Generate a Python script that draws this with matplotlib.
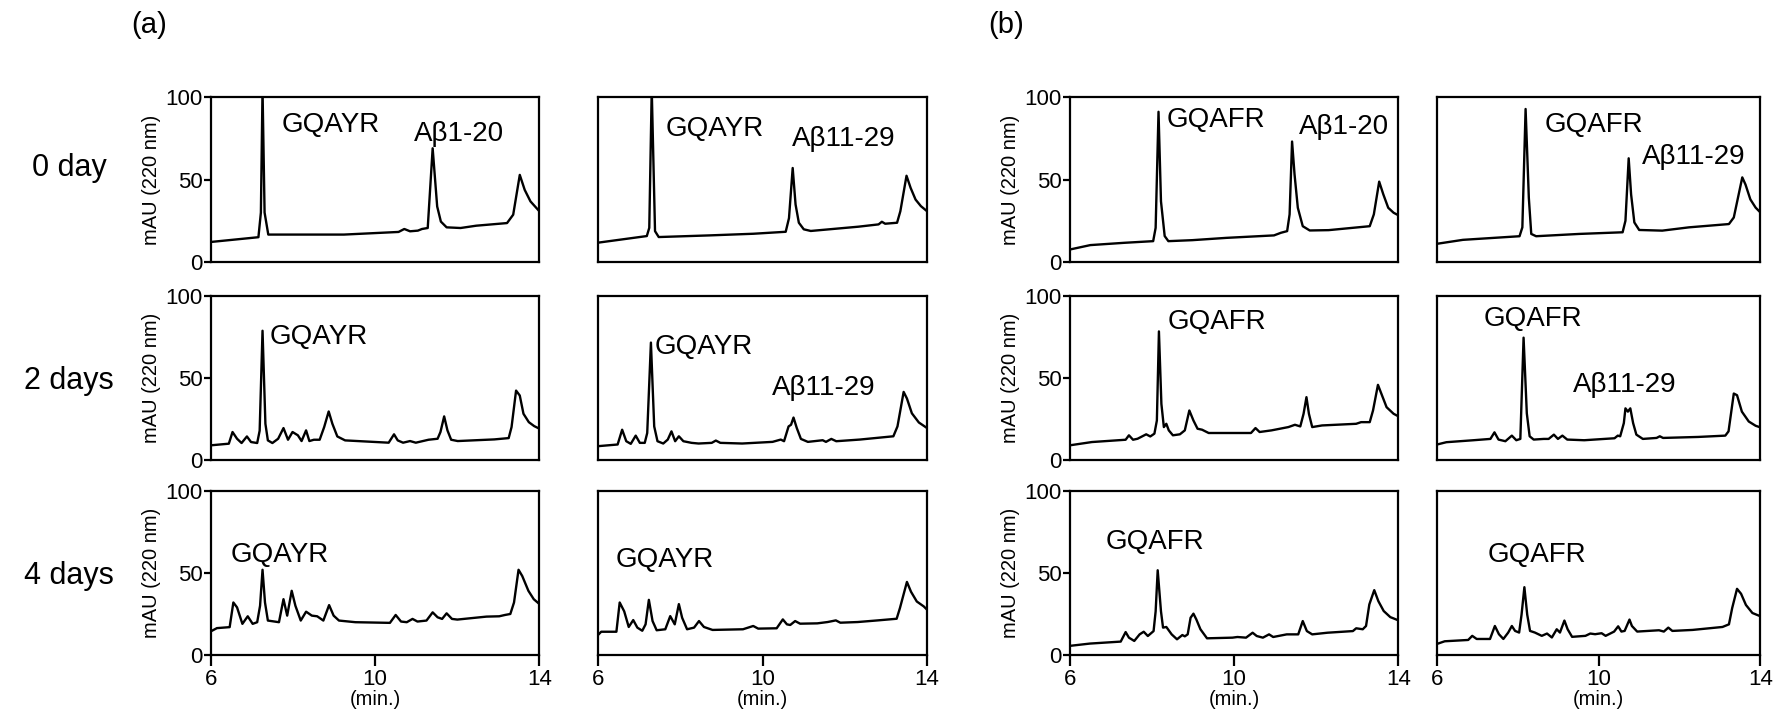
import matplotlib
matplotlib.use("Agg")
import matplotlib.pyplot as plt

plt.rcParams['font.family'] = ['Liberation Sans', 'DejaVu Sans']

# ---- chromatogram traces: time (min.) / mAU (220 nm) ----
# (a) GQAYR + Abeta1-20
a120_d0_t = [6.0, 7.16, 7.22, 7.26, 7.31, 7.40, 9.24, 10.57, 10.71, 10.85, 11.04, 11.14, 11.28, 11.40, 11.51, 11.60, 11.74, 12.08, 12.46, 13.21, 13.36, 13.52, 13.64, 13.78, 14.0]
a120_d0_v = [12.1, 15.0, 30.0, 105, 30.0, 16.6, 16.6, 18.2, 20.0, 18.6, 19.0, 20.0, 20.6, 69.1, 33.7, 24.5, 21.0, 20.6, 22.0, 23.6, 28.7, 52.9, 43.8, 36.8, 30.7]
# (a) GQAYR + Abeta11-29
a1129_d0_t = [6.0, 7.18, 7.24, 7.30, 7.38, 7.47, 8.70, 9.77, 10.56, 10.64, 10.73, 10.80, 10.88, 11.0, 11.17, 12.33, 12.82, 12.90, 12.98, 13.27, 13.35, 13.50, 13.60, 13.72, 13.85, 14.0]
a1129_d0_v = [11.7, 15.7, 20.7, 105, 18.7, 15.1, 16.1, 17.1, 18.3, 26.6, 57.1, 34.9, 23.8, 19.8, 18.8, 21.4, 22.8, 24.4, 23.2, 23.8, 30.8, 52.4, 45.0, 37.9, 33.9, 30.8]
a120_d2_t = [6.0, 6.44, 6.53, 6.64, 6.75, 6.88, 6.98, 7.13, 7.19, 7.26, 7.33, 7.39, 7.50, 7.64, 7.77, 7.88, 7.99, 8.12, 8.21, 8.32, 8.40, 8.51, 8.65, 8.76, 8.87, 8.96, 9.08, 9.27, 10.33, 10.46, 10.55, 10.68, 10.85, 10.99, 11.30, 11.52, 11.59, 11.68, 11.76, 11.85, 12.01, 12.90, 13.25, 13.32, 13.43, 13.52, 13.61, 13.74, 13.87, 14.0]
a120_d2_v = [9.1, 10.1, 17.2, 13.1, 10.5, 14.5, 11.1, 10.5, 18.0, 78.8, 22.2, 12.1, 10.5, 13.1, 19.6, 12.5, 17.2, 15.2, 11.7, 18.2, 11.7, 12.5, 12.5, 20.2, 29.7, 22.2, 14.5, 12.1, 10.7, 15.8, 12.1, 10.7, 11.7, 10.7, 12.5, 13.1, 17.2, 26.7, 18.2, 12.5, 11.7, 12.7, 13.5, 20.2, 42.4, 39.4, 28.3, 23.2, 20.8, 19.2]
a1129_d2_t = [6.0, 6.47, 6.58, 6.68, 6.79, 6.91, 7.01, 7.13, 7.19, 7.28, 7.36, 7.44, 7.58, 7.69, 7.78, 7.87, 7.96, 8.07, 8.27, 8.44, 8.76, 8.86, 8.97, 9.50, 10.24, 10.44, 10.52, 10.63, 10.69, 10.75, 10.83, 10.93, 11.10, 11.46, 11.54, 11.67, 11.79, 12.36, 13.18, 13.28, 13.43, 13.51, 13.63, 13.80, 14.0]
a1129_d2_v = [8.6, 9.6, 18.6, 11.6, 10.0, 15.0, 10.6, 10.6, 16.6, 71.6, 20.6, 11.6, 10.2, 12.6, 17.6, 11.6, 14.6, 11.6, 10.6, 10.2, 10.6, 12.0, 10.6, 10.2, 11.2, 12.6, 11.6, 20.6, 21.6, 26.0, 19.6, 13.0, 11.2, 12.2, 11.2, 13.0, 11.6, 12.6, 14.6, 20.6, 41.6, 37.6, 28.6, 23.0, 19.6]
a120_d4_t = [6.0, 6.15, 6.46, 6.55, 6.64, 6.77, 6.90, 7.02, 7.13, 7.20, 7.26, 7.32, 7.39, 7.66, 7.77, 7.86, 7.97, 8.06, 8.19, 8.32, 8.46, 8.59, 8.74, 8.88, 8.99, 9.12, 9.52, 10.36, 10.50, 10.63, 10.77, 10.91, 11.03, 11.25, 11.40, 11.52, 11.63, 11.74, 11.87, 12.00, 12.71, 13.02, 13.16, 13.29, 13.38, 13.49, 13.58, 13.73, 13.86, 14.0]
a120_d4_v = [14.5, 16.5, 17.1, 32.1, 29.1, 19.1, 23.7, 19.1, 20.1, 30.1, 52.0, 32.1, 21.1, 20.1, 34.1, 24.1, 39.2, 30.1, 21.1, 26.5, 24.1, 23.7, 21.1, 30.5, 24.1, 21.1, 20.1, 19.7, 24.5, 20.5, 20.1, 22.1, 20.5, 21.1, 26.1, 23.1, 22.1, 25.5, 22.1, 21.7, 23.5, 23.7, 24.5, 25.1, 32.1, 52.0, 48.2, 39.2, 34.1, 31.1]
a1129_d4_t = [6.0, 6.07, 6.44, 6.52, 6.63, 6.74, 6.85, 6.95, 7.07, 7.15, 7.23, 7.32, 7.42, 7.63, 7.75, 7.86, 7.96, 8.04, 8.16, 8.33, 8.45, 8.57, 8.78, 9.52, 9.77, 9.89, 10.34, 10.49, 10.59, 10.67, 10.79, 10.91, 11.33, 11.58, 11.78, 11.89, 12.31, 12.80, 13.26, 13.34, 13.51, 13.61, 13.75, 13.92, 14.0]
a1129_d4_v = [12.5, 14.3, 14.3, 32.1, 26.7, 17.2, 21.4, 16.8, 14.9, 18.8, 33.7, 20.8, 15.2, 15.8, 23.8, 18.8, 31.1, 22.8, 15.8, 16.8, 20.8, 17.2, 15.4, 15.8, 17.8, 16.2, 16.4, 21.8, 18.8, 18.4, 20.8, 19.2, 19.4, 20.2, 21.2, 19.8, 20.2, 21.2, 22.2, 28.7, 44.6, 38.6, 32.7, 29.7, 27.7]

# (b) GQAFR + Abeta1-20
f120_d0_t = [6.0, 6.50, 7.33, 8.03, 8.09, 8.16, 8.22, 8.31, 8.40, 8.98, 9.81, 10.97, 11.14, 11.29, 11.35, 11.41, 11.47, 11.55, 11.67, 11.84, 12.30, 13.30, 13.40, 13.53, 13.63, 13.75, 13.88, 14.0]
f120_d0_v = [7.5, 10.2, 11.6, 12.6, 20.7, 91.3, 36.8, 15.7, 12.6, 13.2, 14.6, 16.1, 17.7, 18.7, 28.9, 73.2, 53.3, 32.9, 21.7, 19.1, 19.3, 21.7, 28.9, 48.8, 41.1, 32.9, 29.9, 28.3]
# (b) GQAFR + Abeta11-29
f1129_d0_t = [6.0, 6.64, 8.04, 8.11, 8.19, 8.27, 8.33, 8.45, 9.52, 10.59, 10.66, 10.74, 10.80, 10.88, 11.0, 11.57, 12.23, 13.22, 13.34, 13.55, 13.63, 13.75, 13.88, 14.0]
f1129_d0_v = [11.0, 13.4, 15.6, 21.0, 93.0, 39.0, 17.0, 15.6, 17.0, 18.0, 25.0, 63.0, 41.0, 24.0, 19.4, 19.0, 21.0, 23.0, 27.0, 51.4, 47.0, 38.0, 33.0, 30.0]
f120_d2_t = [6.0, 6.54, 7.36, 7.44, 7.54, 7.65, 7.86, 7.96, 8.06, 8.12, 8.17, 8.23, 8.29, 8.35, 8.41, 8.51, 8.68, 8.80, 8.91, 9.01, 9.11, 9.22, 9.38, 10.41, 10.52, 10.62, 10.91, 11.32, 11.48, 11.61, 11.69, 11.76, 11.82, 11.90, 12.14, 12.97, 13.09, 13.30, 13.38, 13.50, 13.60, 13.71, 13.88, 14.0]
f120_d2_v = [9.1, 11.1, 12.5, 15.2, 12.5, 13.1, 15.8, 14.5, 16.2, 24.2, 78.4, 34.3, 20.2, 22.2, 18.2, 15.2, 15.8, 18.2, 30.3, 24.2, 19.2, 18.6, 16.6, 16.6, 19.6, 17.2, 18.2, 20.2, 21.6, 20.6, 28.3, 38.4, 28.3, 20.2, 21.2, 22.2, 23.2, 23.2, 30.3, 45.9, 39.4, 32.3, 28.3, 26.7]
f1129_d2_t = [6.0, 6.23, 6.90, 7.32, 7.42, 7.52, 7.69, 7.85, 7.96, 8.06, 8.14, 8.22, 8.29, 8.39, 8.64, 8.76, 8.89, 8.99, 9.10, 9.22, 9.64, 10.14, 10.39, 10.47, 10.53, 10.62, 10.66, 10.72, 10.78, 10.85, 10.93, 11.09, 11.43, 11.51, 11.59, 11.88, 12.46, 13.13, 13.21, 13.34, 13.42, 13.54, 13.71, 13.88, 14.0]
f1129_d2_v = [9.6, 11.0, 12.2, 13.0, 17.0, 12.6, 11.6, 15.0, 12.2, 13.0, 74.6, 28.6, 14.6, 12.6, 13.0, 13.0, 15.6, 13.0, 15.0, 12.6, 12.2, 13.0, 13.4, 15.0, 14.6, 22.6, 31.6, 29.6, 31.6, 22.6, 15.6, 13.0, 13.6, 14.6, 13.6, 13.8, 14.2, 15.0, 17.6, 40.6, 39.6, 29.6, 23.6, 21.0, 20.0]
f120_d4_t = [6.0, 6.49, 7.24, 7.36, 7.44, 7.57, 7.70, 7.80, 7.90, 8.04, 8.09, 8.14, 8.22, 8.27, 8.35, 8.48, 8.61, 8.74, 8.80, 8.87, 8.94, 9.01, 9.08, 9.18, 9.34, 9.96, 10.08, 10.29, 10.45, 10.55, 10.70, 10.85, 10.95, 11.28, 11.56, 11.67, 11.77, 11.90, 12.27, 12.89, 12.97, 13.13, 13.21, 13.29, 13.41, 13.51, 13.64, 13.80, 14.0]
f120_d4_v = [5.7, 7.1, 8.3, 14.1, 10.7, 8.7, 12.7, 14.3, 11.7, 14.7, 26.7, 51.7, 26.7, 16.8, 17.2, 12.7, 9.7, 12.3, 11.5, 12.7, 22.8, 25.3, 21.8, 15.8, 10.3, 10.7, 11.1, 10.7, 13.7, 11.7, 10.7, 12.7, 11.1, 12.7, 12.7, 20.8, 14.7, 12.7, 13.7, 14.7, 16.4, 15.8, 17.8, 30.9, 39.6, 32.9, 26.9, 23.2, 21.2]
f1129_d4_t = [6.0, 6.19, 6.77, 6.87, 6.98, 7.31, 7.43, 7.53, 7.64, 7.76, 7.85, 7.93, 8.03, 8.09, 8.16, 8.23, 8.30, 8.42, 8.59, 8.72, 8.84, 8.96, 9.04, 9.15, 9.23, 9.34, 9.67, 9.79, 9.91, 10.07, 10.17, 10.38, 10.48, 10.56, 10.64, 10.76, 10.82, 10.95, 11.49, 11.61, 11.72, 11.82, 12.32, 13.06, 13.22, 13.30, 13.42, 13.52, 13.64, 13.80, 14.0]
f1129_d4_v = [6.9, 8.5, 9.3, 11.8, 9.9, 9.9, 17.8, 12.8, 9.9, 13.8, 17.8, 14.8, 13.8, 24.7, 41.4, 24.7, 14.8, 13.8, 11.8, 13.2, 10.8, 15.8, 13.8, 21.1, 15.8, 11.2, 11.8, 13.2, 12.8, 13.4, 11.8, 14.4, 17.6, 14.4, 14.8, 21.7, 17.8, 14.4, 15.2, 14.4, 16.8, 14.8, 15.4, 17.2, 18.8, 28.7, 40.4, 37.4, 30.6, 25.7, 23.7]

# peak labels: text, time of left edge, mAU of text centre
a120_d0_labels = [("GQAYR", 7.73, 83), ("Aβ1-20", 10.95, 78)]
a1129_d0_labels = [("GQAYR", 7.63, 81), ("Aβ11-29", 10.72, 75)]
a120_d2_labels = [("GQAYR", 7.43, 75)]
a1129_d2_labels = [("GQAYR", 7.37, 69), ("Aβ11-29", 10.22, 44)]
a120_d4_labels = [("GQAYR", 6.49, 61)]
a1129_d4_labels = [("GQAYR", 6.41, 58)]
f120_d0_labels = [("GQAFR", 8.36, 86), ("Aβ1-20", 11.57, 82)]
f1129_d0_labels = [("GQAFR", 8.66, 83), ("Aβ11-29", 11.07, 64)]
f120_d2_labels = [("GQAFR", 8.39, 84)]
f1129_d2_labels = [("GQAFR", 7.16, 86), ("Aβ11-29", 9.35, 46)]
f120_d4_labels = [("GQAFR", 6.88, 69)]
f1129_d4_labels = [("GQAFR", 7.25, 61)]

row_names = ["0 day", "2 days", "4 days"]
y_ticks = [0, 50, 100]
x_ticks = [6, 10, 14]

grid = [
    [(a120_d0_t, a120_d0_v, a120_d0_labels), (a1129_d0_t, a1129_d0_v, a1129_d0_labels),
     (f120_d0_t, f120_d0_v, f120_d0_labels), (f1129_d0_t, f1129_d0_v, f1129_d0_labels)],
    [(a120_d2_t, a120_d2_v, a120_d2_labels), (a1129_d2_t, a1129_d2_v, a1129_d2_labels),
     (f120_d2_t, f120_d2_v, f120_d2_labels), (f1129_d2_t, f1129_d2_v, f1129_d2_labels)],
    [(a120_d4_t, a120_d4_v, a120_d4_labels), (a1129_d4_t, a1129_d4_v, a1129_d4_labels),
     (f120_d4_t, f120_d4_v, f120_d4_labels), (f1129_d4_t, f1129_d4_v, f1129_d4_labels)],
]

col_left = [0.1186, 0.3367, 0.602, 0.8087]
col_width = [0.185, 0.185, 0.185, 0.182]
row_bottom = [0.6368, 0.3616, 0.0912]
row_height = 0.228
row_label_y = [0.767, 0.472, 0.201]

fig = plt.figure(figsize=(17.77, 7.21), dpi=100)

for r in range(3):
    for c in range(4):
        t, v, labels = grid[r][c]
        ax = fig.add_axes([col_left[c], row_bottom[r], col_width[c], row_height])
        ax.plot(t, v, color="black", lw=1.7, solid_joinstyle="round")
        ax.set_xlim(6, 14)
        ax.set_ylim(0, 100)
        for s in ax.spines.values():
            s.set_linewidth(1.6)
        for txt, x0, y0 in labels:
            ax.text(x0, y0, txt, fontsize=20, va="center", ha="left")
        # y axis only on the first column of each group
        if c in (0, 2):
            ax.set_yticks(y_ticks)
            ax.tick_params(axis="y", direction="out", length=5, width=1.6, labelsize=16, pad=1)
            ax.set_ylabel("mAU (220 nm)", fontsize=14.5, labelpad=3)
        else:
            ax.set_yticks([])
        if r == 2:
            ax.set_xticks(x_ticks)
            ax.tick_params(axis="x", direction="out", length=8, width=1.6, labelsize=16, pad=2)
            ax.set_xlabel("(min.)", fontsize=14.5, labelpad=0)
        else:
            ax.set_xticks([])

for r in range(3):
    fig.text(0.039, row_label_y[r], row_names[r], fontsize=22, ha="center", va="center")

fig.text(0.074, 0.965, "(a)", fontsize=21, ha="left", va="center")
fig.text(0.556, 0.965, "(b)", fontsize=21, ha="left", va="center")

fig.savefig("out.png", dpi=100)
